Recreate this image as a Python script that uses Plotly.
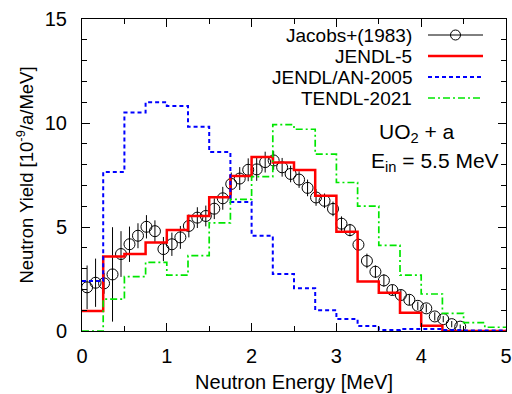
import plotly.graph_objects as go

# ---- data ----
edges = [0.25 * i for i in range(21)]  # bin edges 0..5 MeV
jendl5 = [0.96, 3.58, 3.7, 4.26, 4.86, 5.53, 6.43, 7.45, 8.36, 8.1,
          7.74, 6.5, 4.77, 2.38, 1.84, 0.88, 0.25, 0.0, 0.0, 0.0]
jendlan = [2.4, 7.65, 10.5, 11.0, 10.82, 9.82, 8.6, 6.2, 4.58, 2.74,
           2.05, 1.0, 0.58, 0.24, 0.05, 0.1, 0.1, 0.05, 0.03, 0.02]
tendl = [0.0, 1.53, 2.61, 3.3, 2.69, 3.62, 5.2, 6.33, 7.42, 9.92,
         9.7, 8.5, 7.14, 6.0, 4.12, 2.69, 1.78, 0.85, 0.4, 0.18]

exp_e = [0.06, 0.16, 0.26, 0.36, 0.46, 0.56, 0.66, 0.76, 0.86, 0.96,
         1.06, 1.16, 1.26, 1.36, 1.46, 1.56, 1.66, 1.76, 1.86, 1.96,
         2.06, 2.16, 2.26, 2.36, 2.46, 2.56, 2.66, 2.76, 2.86, 2.96,
         3.06, 3.16, 3.26, 3.36, 3.46, 3.56, 3.66, 3.76, 3.86, 3.96,
         4.06, 4.16, 4.26, 4.36, 4.46]
exp_y = [2.1, 2.32, 2.29, 2.72, 3.7, 4.17, 4.58, 5.01, 4.8, 3.94,
         4.17, 4.5, 5.05, 5.45, 5.53, 5.88, 6.38, 7.07, 7.33, 7.75,
         7.77, 8.12, 8.2, 7.87, 7.55, 7.28, 6.88, 6.42, 6.26, 5.87,
         5.16, 4.85, 4.15, 3.37, 2.85, 2.43, 1.97, 1.73, 1.5, 1.21,
         1.09, 0.7, 0.57, 0.33, 0.21]
exp_err = [1.05, 1.16, 0.5, 2.27, 1.1, 0.85, 0.6, 0.56, 0.52, 0.58,
           0.56, 0.55, 0.55, 0.5, 0.5, 0.5, 0.55, 0.55, 0.55, 0.55,
           0.55, 0.5, 0.45, 0.45, 0.4, 0.4, 0.4, 0.4, 0.35, 0.35,
           0.35, 0.3, 0.3, 0.35, 0.3, 0.3, 0.25, 0.25, 0.25, 0.2,
           0.2, 0.2, 0.15, 0.15, 0.1]

labels = ["Jacobs+(1983)", "JENDL-5", "JENDL/AN-2005", "TENDL-2021"]
RED, BLUE, GREEN = "#ff0000", "#0000ff", "#00e600"
FONT = "Liberation Sans, Arial, sans-serif"

# layout geometry (pixels)
W, H = 512, 394
L, R, T, B = 82, 6, 19, 63
PW, PH = W - L - R, H - T - B


def px(x):
    return (x - L) / PW


def py(y):
    return (H - B - y) / PH


fig = go.Figure()

fig.add_trace(go.Scatter(
    x=exp_e, y=exp_y, mode="markers",
    marker=dict(symbol="circle-open", size=11, color="black", line=dict(width=1)),
    error_y=dict(type="data", array=exp_err, color="black", thickness=1, width=0),
    showlegend=False))


def step(vals):
    return vals + [vals[-1]]


fig.add_trace(go.Scatter(x=edges, y=step(jendl5), mode="lines", line_shape="hv",
                         line=dict(color=RED, width=2.5), showlegend=False))
fig.add_trace(go.Scatter(x=edges, y=step(jendlan), mode="lines", line_shape="hv",
                         line=dict(color=BLUE, width=2, dash="4px,3px"), showlegend=False))
fig.add_trace(go.Scatter(x=edges, y=step(tendl), mode="lines", line_shape="hv",
                         line=dict(color=GREEN, width=1.7, dash="7px,3px,2px,3px"),
                         showlegend=False))

# manual gnuplot-style legend
leg_y = [35, 56, 77, 98]
styles = [dict(color="black", width=1), dict(color=RED, width=2.5),
          dict(color=BLUE, width=2, dash="4px,3px"),
          dict(color=GREEN, width=1.7, dash="7px,3px,2px,3px")]
shapes = []
annotations = []
for lab, yy, st in zip(labels, leg_y, styles):
    annotations.append(dict(x=px(414), y=py(yy), xref="paper", yref="paper",
                            text=lab, showarrow=False, xanchor="right", yanchor="middle",
                            font=dict(family=FONT, size=19, color="black")))
    shapes.append(dict(type="line", xref="paper", yref="paper",
                       x0=px(428), x1=px(483), y0=py(yy), y1=py(yy), line=st))
r = 5
shapes.append(dict(type="circle", xref="paper", yref="paper",
                   x0=px(455.5 - r), x1=px(455.5 + r), y0=py(35 + r), y1=py(35 - r),
                   line=dict(color="black", width=1), fillcolor="rgba(0,0,0,0)"))

annotations.append(dict(x=px(417), y=py(133), xref="paper", yref="paper",
                        text="UO<sub>2</sub> + a", showarrow=False,
                        xanchor="center", yanchor="middle",
                        font=dict(family=FONT, size=21, color="black")))
annotations.append(dict(x=px(434.5), y=py(162), xref="paper", yref="paper",
                        text="E<sub>in</sub> = 5.5 MeV", showarrow=False,
                        xanchor="center", yanchor="middle",
                        font=dict(family=FONT, size=21, color="black")))

axis_common = dict(showgrid=False, zeroline=False, showline=True, linecolor="black",
                   linewidth=1, mirror="allticks", ticks="inside", ticklen=8,
                   tickcolor="black", tickwidth=1, automargin=False,
                   tickfont=dict(family=FONT, size=20, color="black"))

fig.update_layout(
    width=W, height=H, margin=dict(l=L, r=R, t=T, b=B, autoexpand=False),
    plot_bgcolor="white", paper_bgcolor="white",
    shapes=shapes, annotations=annotations,
    xaxis=dict(range=[0, 5], dtick=1, tick0=0,
               minor=dict(dtick=0.5, ticks="inside", ticklen=5, tickcolor="black"),
               title=dict(text="Neutron Energy [MeV]", standoff=8,
                          font=dict(family=FONT, size=20, color="black")),
               ticklabelstandoff=7, **axis_common),
    yaxis=dict(range=[0, 15], dtick=5, tick0=0,
               minor=dict(dtick=1, ticks="inside", ticklen=5, tickcolor="black"),
               title=dict(text="Neutron Yield [10<sup>-9</sup>/a/MeV]", standoff=6,
                          font=dict(family=FONT, size=18.5, color="black")),
               ticklabelstandoff=10, **axis_common),
)

fig.write_html("out.html")
